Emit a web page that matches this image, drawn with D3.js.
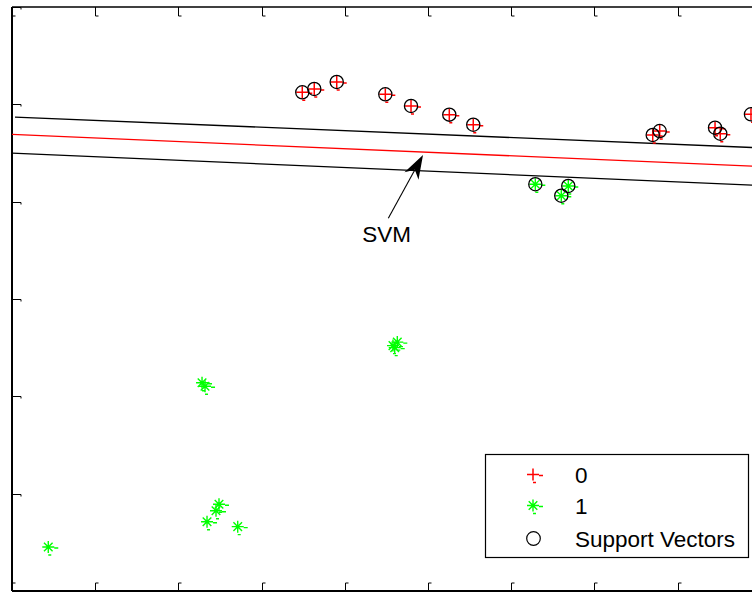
<!DOCTYPE html>
<html><head><meta charset="utf-8">
<script src="https://cdn.jsdelivr.net/npm/d3@7"></script>
<style>
body{margin:0;background:#fff;}
svg{display:block;}
text{font-family:"Liberation Sans",Arial,Helvetica,sans-serif;}
</style>
</head><body>
<svg id="chart" width="752" height="592"></svg>
<script>
// ---- data ----
const xTicks = [0,1,2,3,4,5,6,7,8,9];
const yTicks = [0,1,2,3,4,5,6];

// class "0" (red +)
const class0X = [3.489,3.633,3.903,4.487,4.796,5.256,5.544,7.701,7.785,8.450,8.513,8.882];
const class0Y = [5.124,5.158,5.230,5.103,4.983,4.894,4.791,4.685,4.726,4.760,4.698,4.898];

// class "1" (green *)
const class1X = [6.290,6.686,6.602,0.436,2.488,2.452,2.344,2.713,2.284,2.320,4.631,4.579,4.600];
const class1Y = [4.179,4.161,4.061,0.452,0.891,0.825,0.712,0.661,2.139,2.103,2.557,2.521,2.500];

// support vectors (black circles)
const svX = [3.489,3.633,3.903,4.487,4.796,5.256,5.544,7.701,7.785,8.450,8.513,8.882,6.290,6.686,6.602];
const svY = [5.124,5.158,5.230,5.103,4.983,4.894,4.791,4.685,4.726,4.760,4.698,4.898,4.179,4.161,4.061];

// separating hyperplane and margins
const svmLineX = [0, 9];
const svmLineY = [4.691, 4.361];
const marginUpperX = [0.036, 9];
const marginUpperY = [4.869, 4.553];
const marginLowerX = [0, 9];
const marginLowerY = [4.499, 4.166];

// annotation
const arrowFrom = [4.523, 3.829];
const arrowTo = [4.940, 4.480];
const annotationLabel = "SVM";
const annotationPos = [4.210, 3.589];

const legendLabels = ["0", "1", "Support Vectors"];
const legendColors = ["#ff0000", "#00ff00", "#000000"];

// ---- layout ----
const svg = d3.select("#chart");
const pL = 12, pT = 7, pB = 591, pR = 12 + 9*83.2;
const x = d3.scaleLinear().domain([0, 9]).range([pL, pR]);
const y = d3.scaleLinear().domain([0, 6]).range([pB, pT]);

svg.append("defs").append("clipPath").attr("id","clip")
  .append("rect").attr("x", pL).attr("y", pT).attr("width", pR-pL).attr("height", pB-pT);

// axes box
svg.append("line").attr("x1", pL).attr("x2", pR).attr("y1", pT).attr("y2", pT)
  .attr("stroke","#000").attr("stroke-width",1.5);
svg.append("line").attr("x1", pL).attr("x2", pR).attr("y1", pB).attr("y2", pB)
  .attr("stroke","#000").attr("stroke-width",2);
svg.append("line").attr("x1", pL).attr("x2", pL).attr("y1", pT).attr("y2", pB)
  .attr("stroke","#000").attr("stroke-width",2);

// ticks (no labels visible)
const tg = svg.append("g").attr("stroke","#000").attr("stroke-width",1).attr("fill","none");
xTicks.forEach(t => {
  const px = Math.round(x(t)) + 0.5;
  tg.append("path").attr("d", `M${px},${pT}V${pT+9}h3`);
  tg.append("path").attr("d", `M${px},${pB}V${pB-8}h3`);
});
yTicks.forEach(t => {
  const py = Math.round(y(t)) + 0.5;
  tg.append("path").attr("d", `M${pL},${py}H${pL+9}v2`);
});

const plot = svg.append("g").attr("clip-path","url(#clip)");

// lines
const line = d3.line().x(d => x(d[0])).y(d => y(d[1]));
plot.append("path").datum(d3.zip(marginUpperX, marginUpperY)).attr("d", line)
  .attr("fill","none").attr("stroke","#000").attr("stroke-width",1.3);
plot.append("path").datum(d3.zip(svmLineX, svmLineY)).attr("d", line)
  .attr("fill","none").attr("stroke","#ff0000").attr("stroke-width",1.3);
plot.append("path").datum(d3.zip(marginLowerX, marginLowerY)).attr("d", line)
  .attr("fill","none").attr("stroke","#000").attr("stroke-width",1.3);

// marker drawers
function plusMarker(g, cx, cy, color) {
  const p = d3.path();
  p.moveTo(cx-6, cy); p.lineTo(cx+6, cy);
  p.moveTo(cx, cy-6); p.lineTo(cx, cy+6);
  p.moveTo(cx+6, cy+1); p.lineTo(cx+10, cy+1);
  p.moveTo(cx, cy+8); p.lineTo(cx+3, cy+8);
  g.append("path").attr("d", p.toString()).attr("stroke", color).attr("stroke-width",1.5).attr("fill","none");
}
function starMarker(g, cx, cy, color) {
  const p = d3.path();
  p.moveTo(cx-6, cy); p.lineTo(cx+6, cy);
  p.moveTo(cx, cy-6); p.lineTo(cx, cy+6);
  p.moveTo(cx-4.3, cy-4.3); p.lineTo(cx+4.3, cy+4.3);
  p.moveTo(cx-4.3, cy+4.3); p.lineTo(cx+4.3, cy-4.3);
  p.moveTo(cx+6, cy+1); p.lineTo(cx+10, cy+1);
  p.moveTo(cx, cy+8); p.lineTo(cx+3, cy+8);
  g.append("path").attr("d", p.toString()).attr("stroke", color).attr("stroke-width",1.4).attr("fill","none");
}

const mg = plot.append("g");
class0X.forEach((v,i) => plusMarker(mg, x(v), y(class0Y[i]), legendColors[0]));
class1X.forEach((v,i) => starMarker(mg, x(v), y(class1Y[i]), legendColors[1]));
mg.selectAll("circle.sv").data(d3.zip(svX, svY)).join("circle").attr("class","sv")
  .attr("cx", d => x(d[0])).attr("cy", d => y(d[1])).attr("r", 6.6)
  .attr("fill","none").attr("stroke","#000").attr("stroke-width",1.3);

// annotation arrow
const ax0 = x(arrowFrom[0]), ay0 = y(arrowFrom[1]), ax1 = x(arrowTo[0]), ay1 = y(arrowTo[1]);
const aLen = Math.hypot(ax1-ax0, ay1-ay0), ux = (ax1-ax0)/aLen, uy = (ay1-ay0)/aLen;
const nx = -uy, ny = ux;
svg.append("line").attr("x1", ax0).attr("y1", ay0)
  .attr("x2", ax1 - ux*18).attr("y2", ay1 - uy*18)
  .attr("stroke","#000").attr("stroke-width",1.1);
const hb = 24, hw = 8, notch = 17;
svg.append("path")
  .attr("d", `M${ax1},${ay1}L${ax1-ux*hb+nx*hw},${ay1-uy*hb+ny*hw}L${ax1-ux*notch},${ay1-uy*notch}L${ax1-ux*hb-nx*hw},${ay1-uy*hb-ny*hw}Z`)
  .attr("fill","#000");
svg.append("text").attr("x", x(annotationPos[0])).attr("y", y(annotationPos[1]))
  .attr("font-size", 22.5).attr("fill","#000").text(annotationLabel);

// legend
const lg = svg.append("g");
lg.append("rect").attr("x", 485.5).attr("y", 454.5).attr("width", 263).attr("height", 103)
  .attr("fill","#fff").attr("stroke","#000").attr("stroke-width",1.2);
const rowY = [474.5, 505.5, 538.5];
plusMarker(lg, 533, rowY[0], legendColors[0]);
starMarker(lg, 533, rowY[1], legendColors[1]);
lg.append("circle").attr("cx", 533.5).attr("cy", rowY[2]).attr("r", 6.8)
  .attr("fill","none").attr("stroke","#000").attr("stroke-width",1.2);
legendLabels.forEach((t,i) => {
  lg.append("text").attr("x", 575).attr("y", rowY[i] + 8).attr("font-size", 22.5).attr("fill","#000").text(t);
});
</script>
</body></html>
